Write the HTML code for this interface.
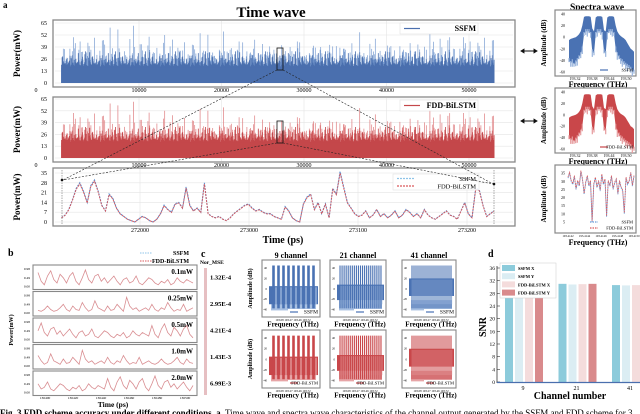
<!DOCTYPE html>
<html><head><meta charset="utf-8">
<style>
html,body{margin:0;padding:0;background:#fff;}
svg{display:block;}
text{font-family:"Liberation Serif",serif;}
</style></head>
<body>
<svg id="fig" xmlns="http://www.w3.org/2000/svg" width="640" height="414" viewBox="0 0 640 414"></svg>
<script>
// ---- chart d data ----
const channels=['9','21','41'];
const seriesNames=['SSFM X','SSFM Y','FDD-BiLSTM X','FDD-BiLSTM Y'];
const ssfmX=[27.0,31.0,30.6];
const ssfmY=[26.6,30.8,30.5];
const fddX=[26.9,30.9,30.6];
const fddY=[26.7,31.0,30.6];
const snrTicks=[0,4,8,12,16,20,24,28,32,36];
// ---- panel a data ----
const timeTicks=['10000','20000','30000','40000','50000'];
const powerTicks=[0,13,26,39,52,65];
const spikeVals=[30,45,28,36,52,33,40,27,58,35,31,48,29,38,44,26,34,60,32,41,30,37,50,28,39,33,46,31,36,55,29,42,34,38,27,49,35,30,43,32,62,36,28,40,33,47,31,37,53,30];
const zoomTicks=['272000','273000','273100','273200'];
const zoomPowerTicks=[0,7,14,21,28,35];
const zoomWave=[3,5,9,16,24,28,22,14,26,30,22,12,8,20,17,10,6,4,2,1,0,2,4,3,1,0,2,6,12,9,7,13,14,10,25,12,8,10,7,28,6,4,3,4,2,1,3,6,8,10,12,13,10,8,9,7,6,6,4,3,2,11,8,3,1,0,13,18,20,9,14,6,13,3,24,20,36,25,14,10,6,4,5,8,3,5,9,4,6,3,5,8,3,5,9,7,4,6,3,9,5,3,2,4,6,8,5,4,2,8,14,6,3,24,23,12,4,6,8];
const specTop=[-5,-3,-2,-1,0,2,5,10,20,35,36,36,36,35,15,10,34,36,36,36,35,12,10,34,36,36,36,35,20,10,5,2,0,-2,-5,-10,-15,-20,-22,-25];
const specBot=[-40,-45,-42,-48,-44,-40,-35,-30,-20,5,10,10,10,5,-25,-28,5,10,10,10,5,-25,-28,5,10,10,10,5,-20,-30,-35,-40,-42,-45,-48,-50,-52,-55,-58,-60];
const specZoom=[32,35,30,28,33,25,30,27,36,31,22,29,33,27,30,5,28,32,26,30,24,34,28,31,8,30,27,33,25,29,31,22,30,26,24,10,32,28,30,35,27,33];
// ---- panel b data ----
const bPowers=['0.1mW','0.25mW','0.5mW','1.0mW','2.0mW'];
const bMse=['1.32E-4','2.95E-4','4.21E-4','1.43E-3','6.99E-3'];
const bWaveA=[0.8,0.3,0.1,0.6,0.9,0.4,0.2,0.7,0.5,0.2,0.6,0.8,0.3,0.1,0.5,0.95,0.4,0.2,0.6,0.7,0.3,0.5,0.2,0.4,0.6,0.3,0.1,0.4,0.5,0.2,0.3,0.6,0.2,0.1,0.3,0.5,0.4,0.2,0.1,0.3,0.2,0.4,0.1,0.2,0.5,0.3,0.2,0.4,0.3,0.2];
const bWaveB=[0.1,0.2,0.15,0.5,0.1,0.2,0.3,0.15,0.1,0.2,0.4,0.2,0.1,0.15,0.3,0.5,0.2,0.1,0.4,0.2,0.15,0.6,0.3,0.1,0.2,0.7,0.3,0.2,0.1,0.4,0.15,0.2,0.5,0.3,0.1,0.9,0.4,0.2,0.3,0.1,0.2,0.3,0.15,0.5,0.2,0.1,0.3,0.2,0.6,0.3];
// ---- panel c data ----
const cChannels=[9,21,41];
const cTitles=['9 channel','21 channel','41 channel'];
const cPedestal=[5,8,20];

const NS='http://www.w3.org/2000/svg';
const svg=document.getElementById('fig');
function mk(tag,attrs,parent){const e=document.createElementNS(NS,tag);for(const k in attrs)e.setAttribute(k,attrs[k]);(parent||svg).appendChild(e);return e;}
function tx(x,y,s,size,extra,parent){const e=mk('text',Object.assign({x:x,y:y,'font-size':size},extra||{}),parent);e.textContent=s;return e;}

let el;
el=tx(3,8,'a',9,{'font-weight':'bold','font-family':'Liberation Sans'});


el=tx(271,17,'Time wave',15,{'font-weight':'bold','text-anchor':'middle'});



function wavePanel(top,bot,base,v65,color,bodyColor,legend,name){
  const g=mk('g',{});
  
  
  const yS=v=>base-v*(base-v65)/65;
  const xS=i=>139+i*82.5;
  el=mk('rect',{x:53,y:top,width:462,height:bot-top,fill:'#fff',stroke:'#888','stroke-width':1.3},g);
  
  
  powerTicks.forEach(t=>{
    el=mk('line',{x1:55,x2:513,y1:yS(t),y2:yS(t),stroke:'#e4e4e4','stroke-width':0.6},g);
    
    
    el=tx(47,yS(t)+2,String(t),6,{'text-anchor':'end'},g);
    
    
  });
  timeTicks.forEach((t,i)=>{
    el=mk('line',{x1:xS(i),x2:xS(i),y1:top+1,y2:bot-1,stroke:'#e4e4e4','stroke-width':0.6},g);
    
    
    el=tx(xS(i),bot+5,t,6,{'text-anchor':'middle'},g);
    
    
  });
  el=tx(36,bot+5,'0',6,{'text-anchor':'middle'},g);
  
  
  let d='',db='';
  const mult=[0.55,0.7,0.6,1,0.65,0.75,0.5,0.8,0.6,0.72,0.9,0.58,0.66];
  for(let i=0;i<722;i++){
    const x=61.5+i*0.6;
    const v=spikeVals[(i*7)%50]*mult[i%13];
    d+='M'+x.toFixed(2)+' '+base+'V'+yS(v).toFixed(1);
    const b=18+(spikeVals[(i*11)%50]-26)*0.45;
    db+='M'+x.toFixed(2)+' '+base+'V'+yS(b).toFixed(1);
  }
  el=mk('path',{d:d,stroke:color,'stroke-width':0.7,fill:'none'},g);
  
  
  el=mk('path',{d:db,stroke:bodyColor,'stroke-width':0.8,fill:'none'},g);
  
  
  el=mk('rect',{x:61.5,y:yS(17),width:432.5,height:base-yS(17),fill:bodyColor},g);
  
  
  el=mk('rect',{x:400,y:top+3,width:78,height:11,fill:'#fff','fill-opacity':0.85,stroke:'#ddd','stroke-width':0.5},g);
  
  
  el=mk('line',{x1:404,x2:420,y1:top+8.5,y2:top+8.5,stroke:bodyColor,'stroke-width':1.2},g);
  
  
  el=tx(476,top+11,legend,8,{'text-anchor':'end','font-weight':'bold'},g);
  
  
  el=tx(0,0,'Power(mW)',9,{'font-weight':'bold','text-anchor':'middle',transform:'translate(20,'+((top+bot)/2)+') rotate(-90)'},g);
  
  
}
wavePanel(20,87,83,23,'#7c9fd2','#4a6fae','SSFM','ssfm-time-panel');
wavePanel(97,162,158,99,'#df7e80','#c4474a','FDD-BiLSTM','fdd-time-panel');

(function(){
  const g=mk('g',{});
  
  
  const base=222,top=168,bot=226;
  const yS=v=>base-v*(base-173)/35;
  const xS=i=>61.5+i*432.5/(zoomWave.length-1);
  el=mk('rect',{x:53,y:top,width:462,height:bot-top,fill:'#fff',stroke:'#888','stroke-width':1.3},g);
  
  
  zoomPowerTicks.forEach(t=>{
    el=mk('line',{x1:55,x2:513,y1:yS(t),y2:yS(t),stroke:'#e4e4e4','stroke-width':0.6},g);
    
    
    el=tx(47,yS(t)+2,String(t),6,{'text-anchor':'end'},g);
    
    
  });
  zoomTicks.forEach((t,i)=>{
    const x=140+i*109;
    el=mk('line',{x1:x,x2:x,y1:top+1,y2:bot-1,stroke:'#e4e4e4','stroke-width':0.6},g);
    
    
    el=tx(x,bot+6,t,6,{'text-anchor':'middle'},g);
    
    
  });
  let d1='',d2='';
  zoomWave.forEach((v,i)=>{d1+=(i?'L':'M')+xS(i).toFixed(1)+' '+yS(v).toFixed(1);d2+=(i?'L':'M')+xS(i).toFixed(1)+' '+yS(v*0.97).toFixed(1);});
  el=mk('path',{d:d1,stroke:'#5b8fd0','stroke-width':1.1,fill:'none','stroke-dasharray':'2 1'},g);
  
  
  el=mk('path',{d:d2,stroke:'#d9595c','stroke-width':0.9,fill:'none','stroke-dasharray':'2 1'},g);
  
  
  el=mk('rect',{x:393,y:174,width:86,height:16,fill:'#fff','fill-opacity':0.85,stroke:'#ddd','stroke-width':0.5},g);
  
  
  el=mk('line',{x1:397,x2:415,y1:178.5,y2:178.5,stroke:'#8fc4e8','stroke-width':1.2,'stroke-dasharray':'2 1'},g);
  
  
  el=tx(476,181,'SSFM',6.5,{'text-anchor':'end'},g);
  
  
  el=mk('line',{x1:397,x2:415,y1:186,y2:186,stroke:'#d9595c','stroke-width':1.2,'stroke-dasharray':'2 1'},g);
  
  
  el=tx(476,188.5,'FDD-BiLSTM',6.5,{'text-anchor':'end'},g);
  
  
  el=tx(0,0,'Power(mW)',9,{'font-weight':'bold','text-anchor':'middle',transform:'translate(20,197) rotate(-90)'},g);
  
  
  el=tx(283,243,'Time (ps)',10,{'font-weight':'bold','text-anchor':'middle'},g);
  
  
  [62,494].forEach(x=>{
    el=mk('line',{x1:x,x2:x,y1:170,y2:224,stroke:'#555','stroke-width':0.5,'stroke-dasharray':'1.5 1'},g);
    
    
  });
})();
[[48,70],[121,143]].forEach(r=>{
  el=mk('rect',{x:277,y:r[0],width:6,height:r[1]-r[0],fill:'none',stroke:'#111','stroke-width':0.8});
  
  
  el=mk('line',{x1:277,y1:r[1],x2:63,y2:180,stroke:'#222','stroke-width':0.6,'stroke-dasharray':'2 1.5'});
  
  
  el=mk('line',{x1:283,y1:r[1],x2:493,y2:184,stroke:'#222','stroke-width':0.6,'stroke-dasharray':'2 1.5'});
  
  
});
[[62,180],[494,184]].forEach(p=>{
  el=mk('circle',{cx:p[0],cy:p[1],r:1.3,fill:'#111'});
  
  
});

el=tx(597,10,'Spectra wave',9.5,{'font-weight':'bold','text-anchor':'middle'});


function specPanel(top,bot,color,light,legend,name){
  const g=mk('g',{});
  
  
  const yS=v=>top+4+(40-v)*(bot-top-8)/100;
  const xS=i=>569+i*65/(specTop.length-1);
  el=mk('rect',{x:555,y:top,width:81,height:bot-top,fill:'#fff',stroke:'#888','stroke-width':1.2},g);
  
  
  [40,20,0,-20,-40,-60].forEach(t=>{
    el=tx(565,yS(t)+1.5,String(t),4,{'text-anchor':'end'},g);
    
    
  });
  let d='';
  specTop.forEach((v,i)=>{d+=(i?'L':'M')+xS(i).toFixed(1)+' '+yS(v).toFixed(1);});
  for(let i=specBot.length-1;i>=0;i--)d+='L'+xS(i).toFixed(1)+' '+yS(specBot[i]).toFixed(1);
  el=mk('path',{d:d+'Z',fill:color},g);
  
  
  let d2='';
  specBot.forEach((v,i)=>{d2+='M'+xS(i).toFixed(1)+' '+yS(v+4).toFixed(1)+'V'+yS(v-3-(i%3)*3).toFixed(1);});
  el=mk('path',{d:d2,stroke:light,'stroke-width':1.2},g);
  
  
  ['193.32','193.38','193.44','193.50'].forEach((t,i)=>{
    el=tx(575+i*17,bot+4,t,4,{'text-anchor':'middle'},g);
    
    
  });
  el=tx(598,bot+11,'Frequency (THz)',8,{'font-weight':'bold','text-anchor':'middle'},g);
  
  
  el=tx(0,0,'Amplitude (dB)',7,{'font-weight':'bold','text-anchor':'middle',transform:'translate(546,'+((top+bot)/2)+') rotate(-90)'},g);
  
  
  el=mk('line',{x1:600,x2:608,y1:bot-6,y2:bot-6,stroke:color,'stroke-width':1.2},g);
  
  
  el=tx(633,bot-4.5,legend,4.5,{'text-anchor':'end'},g);
  
  
}
specPanel(10,76,'#4a72b3','#9ab5dc','SSFM','ssfm-spectrum-panel');
specPanel(88,153,'#c9474a','#e69a9c','FDD-BiLSTM','fdd-spectrum-panel');
[51,121].forEach(y=>{
  el=mk('path',{d:'M521 '+y+'H537M521 '+y+'l3 -1.8v3.6zM537 '+y+'l-3 -1.8v3.6z',stroke:'#111','stroke-width':0.9,fill:'#111'});
  
  
});
(function(){
  const g=mk('g',{});
  
  
  const top=165,bot=233;
  const yS=v=>bot-3-(v)*(bot-top-8)/37;
  const xS=i=>568+i*66/(specZoom.length-1);
  el=mk('rect',{x:555,y:top,width:81,height:bot-top,fill:'#fff',stroke:'#888','stroke-width':1.2},g);
  
  
  [5,10,15,20,25,30,35].forEach(t=>{
    el=tx(565,yS(t)+1.5,String(t),4,{'text-anchor':'end'},g);
    
    
  });
  let d1='',d2='';
  specZoom.forEach((v,i)=>{d1+=(i?'L':'M')+xS(i).toFixed(1)+' '+yS(v).toFixed(1);d2+=(i?'L':'M')+xS(i).toFixed(1)+' '+yS(v+0.6).toFixed(1);});
  el=mk('path',{d:d1,stroke:'#6b9bd6','stroke-width':0.9,fill:'none','stroke-dasharray':'1.5 1'},g);
  
  
  el=mk('path',{d:d2,stroke:'#d9595c','stroke-width':0.8,fill:'none','stroke-dasharray':'1.5 1'},g);
  
  
  ['193.4142','193.4144','193.4146','193.4148','193.4150'].forEach((t,i)=>{
    el=tx(568+i*16.5,bot+4,t,3,{'text-anchor':'middle'},g);
    
    
  });
  el=tx(598,bot+12,'Frequency (THz)',8,{'font-weight':'bold','text-anchor':'middle'},g);
  
  
  el=tx(0,0,'Amplitude (dB)',7,{'font-weight':'bold','text-anchor':'middle',transform:'translate(546,199) rotate(-90)'},g);
  
  
  el=mk('line',{x1:590,x2:598,y1:bot-11,y2:bot-11,stroke:'#6b9bd6','stroke-width':1.2,'stroke-dasharray':'1.5 1'},g);
  
  
  el=tx(633,bot-9.5,'SSFM',4.5,{'text-anchor':'end'},g);
  
  
  el=mk('line',{x1:590,x2:598,y1:bot-5,y2:bot-5,stroke:'#d9595c','stroke-width':1.2,'stroke-dasharray':'1.5 1'},g);
  
  
  el=tx(633,bot-3.5,'FDD-BiLSTM',4.5,{'text-anchor':'end'},g);
  
  
})();

// ---- panel b ----
el=tx(8,256,'b',10,{'font-weight':'bold','font-family':'Liberation Sans'});


el=mk('line',{x1:140,x2:152,y1:253,y2:253,stroke:'#8fc4e8','stroke-width':1,'stroke-dasharray':'1.5 1'});


el=tx(189,255,'SSFM',6,{'text-anchor':'end','font-weight':'bold'});


el=mk('line',{x1:140,x2:152,y1:261,y2:261,stroke:'#d9595c','stroke-width':1,'stroke-dasharray':'1.5 1'});


el=tx(189,263,'FDD-BiLSTM',6,{'text-anchor':'end','font-weight':'bold'});


el=tx(200,264,'Nor_MSE',5.5,{'font-weight':'bold'});


el=mk('rect',{x:204,y:268,width:3,height:127,fill:'#e6bfc2'});


bPowers.forEach((p,k)=>{
  const top=265+k*26.5,h=24.5;
  const g=mk('g',{});
  
  
  el=mk('rect',{x:33,y:top,width:164,height:h,fill:'#fff',stroke:'#888','stroke-width':1.1},g);
  
  
  const arr=k%2?bWaveB:bWaveA;
  const sh=k*7;
  let d='';
  for(let i=0;i<arr.length;i++){const v=arr[(i+sh)%arr.length];d+=(i?'L':'M')+(38+i*155/(arr.length-1)).toFixed(1)+' '+(top+h-3-v*(h-7)).toFixed(1);}
  el=mk('path',{d:d,stroke:'#d98e92','stroke-width':0.8,fill:'none'},g);
  
  
  el=tx(193,top+9,p,7,{'text-anchor':'end','font-weight':'bold'},g);
  
  
  ['0.00','0.49','0.98'].forEach((t,j)=>{
    el=tx(30,top+h-3-j*(h-7)/2+1,t,3.5,{'text-anchor':'end'},g);
    
    
  });
  el=tx(210,top+h/2+2,bMse[k],6.5,{'font-weight':'bold'},g);
  
  
});
['136400','136420','136440','136460','136480','136500'].forEach((t,i)=>{
  el=tx(45+i*28,399,t,3.5,{'text-anchor':'middle'});
  
  
});
el=tx(113,407,'Time (ps)',7.5,{'font-weight':'bold','text-anchor':'middle'});


el=tx(0,0,'Power(mW)',6,{'font-weight':'bold','text-anchor':'middle',transform:'translate(13,330) rotate(-90)'});



// ---- panel c ----
el=tx(201,257,'c',10,{'font-weight':'bold','font-family':'Liberation Sans'});


const cBoxes=[[262,58],[330,56],[402,54]];
cChannels.forEach((n,ci)=>{
  const bx=cBoxes[ci][0],bw=cBoxes[ci][1];
  el=tx(bx+bw/2,258,cTitles[ci],8,{'font-weight':'bold','text-anchor':'middle'});
  
  
  [[260,317,'#4a72b3','#a8c0e2','SSFM'],[330,388,'#c9474a','#e7a5a7','FDD-BiLSTM']].forEach((row,ri)=>{
    const top=row[0],bot=row[1];
    const g=mk('g',{});
    
    
    const yS=v=>top+4+(48-v)*(bot-top-8)/95;
    const x0=bx+7,x1=bx+bw-2;
    el=mk('rect',{x:bx,y:top,width:bw,height:bot-top,fill:'#fff',stroke:'#888','stroke-width':1.1},g);
    
    
    [40,20,0,-20,-40].forEach(t=>{
      el=tx(bx+5,yS(t)+1,String(t),3,{'text-anchor':'end'},g);
      
      
    });
    const ped=cPedestal[ci];
    el=mk('rect',{x:x0+2,y:yS(-22),width:x1-x0-4,height:yS(-42)-yS(-22),fill:row[3]},g);
    
    
    el=mk('rect',{x:x0,y:yS(ped),width:x1-x0,height:yS(-30+ci*8)-yS(ped),fill:row[2]},g);
    
    
    const sp=(x1-x0-4)/n;
    let d='';
    for(let k=0;k<n;k++){const x=x0+2+sp*(k+0.5);d+='M'+x.toFixed(2)+' '+yS(-38).toFixed(1)+'V'+yS(45).toFixed(1);}
    el=mk('path',{d:d,stroke:row[2],'stroke-width':Math.min(2.6,sp*0.55)},g);
    
    
    let dg='';
    for(let k=0;k<n;k++){const x=x0+2+sp*(k+1);dg+='M'+x.toFixed(2)+' '+yS(ped-2).toFixed(1)+'V'+yS(-30).toFixed(1);}
    el=mk('path',{d:dg,stroke:row[3],'stroke-width':Math.min(1.2,sp*0.3)},g);
    
    
    el=mk('rect',{x:bx+bw-32,y:bot-8,width:30,height:6,fill:'#fff'},g);
    
    
    el=mk('line',{x1:bx+bw-30,x2:bx+bw-22,y1:bot-5,y2:bot-5,stroke:row[2],'stroke-width':1.2},g);
    
    
    el=tx(bx+bw-2,bot-3.5,row[4],ri?4.5:5.5,{'text-anchor':'end'},g);
    
    
    el=tx(bx+bw/2+2,bot+4,'193.08  193.27  193.46  193.72',3,{'text-anchor':'middle'},g);
    
    
    el=tx(bx+bw/2+2,bot+9.5,'Frequency (THz)',7,{'font-weight':'bold','text-anchor':'middle'},g);
    
    
    if(ci===0){
      el=tx(0,0,'Amplitude (dB)',6,{'font-weight':'bold','text-anchor':'middle',transform:'translate(252,'+((top+bot)/2)+') rotate(-90)'},g);
      
      
    }
  });
});

// ---- panel d ----
el=tx(488,257,'d',10,{'font-weight':'bold','font-family':'Liberation Sans'});


const seriesVals=[ssfmX,ssfmY,fddX,fddY];
const barColors=['#8ccbdb','#dbedf3','#f4dcdc','#d98a8c'];
const dY=v=>382-v*(382-268)/36;
const dX=(ci,si)=>505+ci*53.5+si*10;
snrTicks.forEach(t=>{
  el=mk('line',{x1:497,x2:500,y1:dY(t),y2:dY(t),stroke:'#333','stroke-width':0.6});
  
  
  el=tx(495,dY(t)+2,String(t),5.5,{'text-anchor':'end'});
  
  
});
channels.forEach((c,ci)=>{
  seriesVals.forEach((vals,si)=>{
    el=mk('rect',{x:dX(ci,si),y:dY(vals[ci]),width:8,height:382-dY(vals[ci]),fill:barColors[si]});
    
    
  });
  el=tx(dX(ci,0)+18,390,c,6,{'text-anchor':'middle'});
  
  
});
el=mk('line',{x1:497,x2:497,y1:266,y2:383,stroke:'#333','stroke-width':0.8});


el=mk('line',{x1:497,x2:640,y1:382.5,y2:382.5,stroke:'#4a6fae','stroke-width':1.2});


el=tx(0,0,'SNR',10,{'font-weight':'bold','text-anchor':'middle',transform:'translate(486,327) rotate(-90)'});


el=tx(570,399,'Channel number',10,{'font-weight':'bold','text-anchor':'middle'});


el=mk('rect',{x:500,y:263,width:56,height:35,fill:'#fff',stroke:'#ccc','stroke-width':0.5});


seriesNames.forEach((s,si)=>{
  el=mk('rect',{x:502,y:265+si*8.2,width:13,height:6,fill:barColors[si]});
  
  
  el=tx(518,270+si*8.2,s,4.5,{'font-weight':'bold'});
  
  
});

el=tx(0,416,'',9,{});
el.innerHTML='<tspan font-weight="bold">Fig. 3 FDD scheme accuracy under different conditions. a,</tspan> Time wave and spectra wave characteristics of the channel output generated by the SSFM and FDD scheme for 3';


</script>
</body></html>
